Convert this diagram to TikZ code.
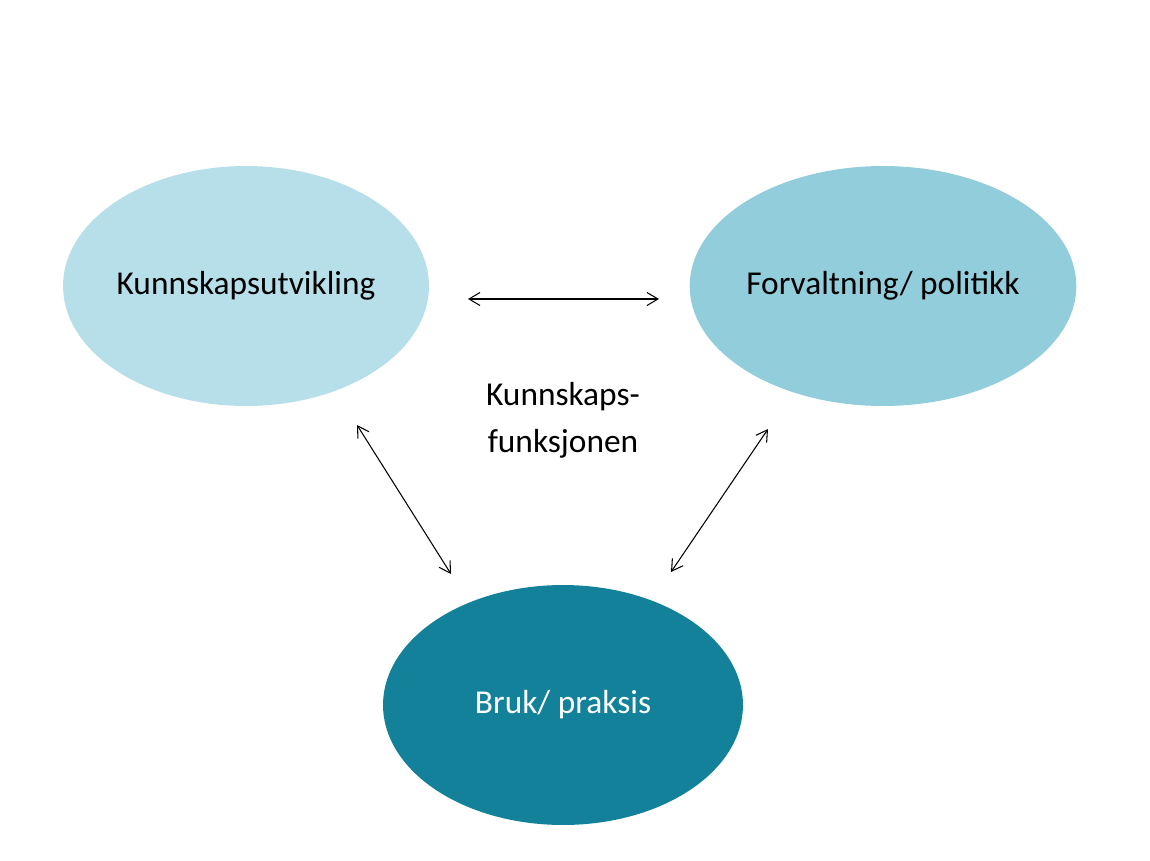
\documentclass[tikz,border=0pt]{standalone}
\usepackage{fontspec}
\setmainfont{Carlito}
\usetikzlibrary{arrows.meta,shapes.geometric}
\definecolor{cA}{HTML}{B7DFE9}
\definecolor{cB}{HTML}{92CDDC}
\definecolor{cC}{HTML}{14819A}
\begin{document}
\begin{tikzpicture}[x=0.02cm,y=-0.02cm,
  blob/.style={ellipse,minimum width=7.2cm,minimum height=4.8cm,inner sep=0pt,font=\fontsize{19}{23}\selectfont},
  link/.style={{Straight Barb[length=2.2mm,width=2.6mm]}-{Straight Barb[length=2.2mm,width=2.6mm]},line width=0.6pt}]
\useasboundingbox (0,0) rectangle (1150,860);
\node[blob,fill=cA] (k) at (246,286) {Kunnskapsutvikling};
\node[blob,fill=cB] (f) at (883,286) {Forvaltning/ politikk};
\node[blob,fill=cC,text=white] (b) at (563,705) {Bruk/ praksis};
\node[align=center,font=\fontsize{19}{27}\selectfont] (t) at (563,420) {Kunnskaps-\\funksjonen};
\coordinate (a1) at (468,299); \coordinate (a2) at (659,299);
\coordinate (b1) at (357,425); \coordinate (b2) at (451,574);
\coordinate (c1) at (768,429); \coordinate (c2) at (671,572);
\draw[link] (a1) -- (a2);
\draw[link] (b1) -- (b2);
\draw[link] (c1) -- (c2);
\end{tikzpicture}
\end{document}
